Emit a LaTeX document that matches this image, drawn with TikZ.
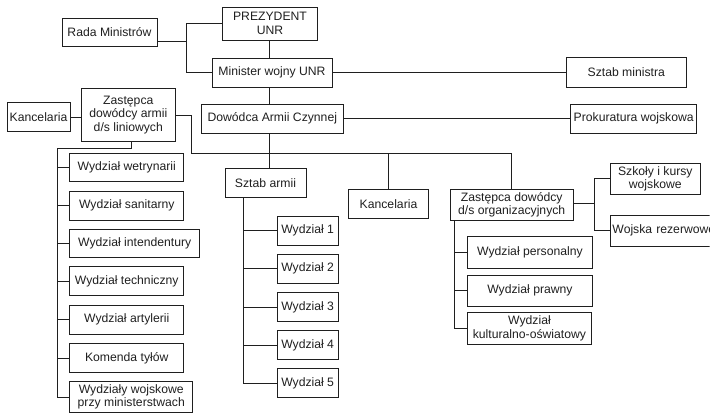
\documentclass[tikz,border=0pt]{standalone}
\usepackage{fontspec}
\setmainfont{Liberation Sans}
\usetikzlibrary{calc}
\definecolor{ink}{gray}{0.12}
\tikzset{
  box/.style={draw=ink, text=ink, line width=0.9pt, align=center, inner sep=1pt,
    font=\fontsize{12.2}{13.5}\selectfont},
  conn/.style={draw=ink, line width=0.8pt},
}
\begin{document}
\begin{tikzpicture}[x=1pt,y=-1pt]
\useasboundingbox (0,0) rectangle (720,420);
\clip (0,0) rectangle (720,420);
% top level
\node[box, minimum width=95pt, minimum height=33pt] (pres) at (270,23.5) {PREZYDENT\\UNR};
\node[box, minimum width=95pt, minimum height=28pt] (rada) at (109.5,32) {Rada Ministrów};
\node[box, minimum width=120pt, minimum height=29pt] (min) at (272,72.5) {Minister wojny UNR};
\node[box, minimum width=141.5pt, minimum height=29.3pt] (dow) at (272.3,118.7) {Dowódca Armii Czynnej};
\node[box, minimum width=119.3pt, minimum height=30pt] (smin) at (626.3,72) {Sztab ministra};
\node[box, minimum width=126pt, minimum height=29.3pt] (prok) at (633.7,118.7) {Prokuratura wojskowa};
% left branch
\node[box, minimum width=63pt, minimum height=29pt] (kanc1) at (38.5,117) {Kancelaria};
\node[box, minimum width=93.3pt, minimum height=53.3pt] (zlin) at (128.3,115) {Zastępca\\dowódcy armii\\d/s liniowych};
\node[box, anchor=west, minimum width=114pt, minimum height=28.5pt] (l1) at (69.3,167.5) {Wydział wetrynarii};
\node[box, anchor=west, minimum width=114pt, minimum height=29pt] (l2) at (69.3,205.5) {Wydział sanitarny};
\node[box, anchor=west, minimum width=130pt, minimum height=28.5pt] (l3) at (69.3,243.5) {Wydział intendentury};
\node[box, anchor=west, minimum width=114pt, minimum height=29pt] (l4) at (69.3,281) {Wydział techniczny};
\node[box, anchor=west, minimum width=114pt, minimum height=29pt] (l5) at (69.3,319.5) {Wydział artylerii};
\node[box, anchor=west, minimum width=114pt, minimum height=29pt] (l6) at (69.3,358) {Komenda tyłów};
\node[box, anchor=west, minimum width=123pt, minimum height=31.7pt] (l7) at (69.3,397) {Wydziały wojskowe\\przy ministerstwach};
% middle branch
\node[box, minimum width=81pt, minimum height=29pt] (sza) at (265.5,182.7) {Sztab armii};
\node[box, anchor=west, minimum width=61pt, minimum height=29pt] (w1) at (276.7,230.5) {Wydział 1};
\node[box, anchor=west, minimum width=61pt, minimum height=29pt] (w2) at (276.7,268.8) {Wydział 2};
\node[box, anchor=west, minimum width=61pt, minimum height=29pt] (w3) at (276.7,307.2) {Wydział 3};
\node[box, anchor=west, minimum width=61pt, minimum height=29pt] (w4) at (276.7,345.3) {Wydział 4};
\node[box, anchor=west, minimum width=61pt, minimum height=29pt] (w5) at (276.7,383) {Wydział 5};
\node[box, minimum width=79.5pt, minimum height=29pt] (kanc2) at (388.5,203.8) {Kancelaria};
% right branch
\node[box, minimum width=123.3pt, minimum height=30.7pt] (zorg) at (511.7,204.7) {Zastępca dowódcy\\d/s organizacyjnych};
\node[box, minimum width=90.7pt, minimum height=31pt] (szk) at (655.3,178.8) {Szkoły i kursy\\wojskowe};
\begin{scope}
\clip (600,200) rectangle (709.5,260);
\node[box, anchor=west, minimum width=125pt, minimum height=31pt, align=left, inner sep=2pt, text width=121pt] (woj) at (610,230.5) {Wojska rezerwowe};
\end{scope}
\node[box, anchor=west, minimum width=124.4pt, minimum height=31.6pt] (r1) at (467.3,252.5) {Wydział personalny};
\node[box, anchor=west, minimum width=124.4pt, minimum height=31pt] (r2) at (467.3,290.5) {Wydział prawny};
\node[box, anchor=west, minimum width=123.4pt, minimum height=31.3pt] (r3) at (467.3,328.3) {Wydział\\kulturalno-oświatowy};
% junction coordinates
\coordinate (jA) at (186.7,0);
\coordinate (spine) at (269,0);
\coordinate (busA) at (191.7,153.3);
\coordinate (lb) at (57.3,148.3);
\coordinate (sb) at (243.3,0);
\coordinate (ob) at (454,0);
\coordinate (rb) at (594,0);
% connectors top
\draw[conn] (pres.west) -- (pres.west -| jA) -- (min.west -| jA) -- (min.west);
\draw[conn] ([yshift=-9pt]rada.east) -- ([yshift=-9pt]rada.east -| jA);
\draw[conn] (pres.south -| spine) -- (min.north -| spine);
\draw[conn] (min.south -| spine) -- (dow.north -| spine);
\draw[conn] (dow.south -| spine) -- (sza.north -| spine);
\draw[conn] (min.east) -- (min.east -| smin.west);
\draw[conn] (dow.east) -- (dow.east -| prok.west);
% left
\draw[conn] (kanc1.east) -- (kanc1.east -| zlin.west);
\draw[conn] (zlin.east) -| (busA) -| (zorg.north);
\draw[conn] (kanc2.north |- busA) -- (kanc2.north);
\draw[conn] ([xshift=3.4pt]zlin.south) |- (lb) |- (l7.west);
\foreach \n in {l1,l2,l3,l4,l5,l6} \draw[conn] (\n.west -| lb) -- (\n.west);
% sztab armii
\draw[conn] (sza.south -| sb) |- (w5.west);
\foreach \n in {w1,w2,w3,w4} \draw[conn] (\n.west -| sb) -- (\n.west);
% zorg
\draw[conn] (zorg.south -| ob) |- (r3.west);
\foreach \n in {r1,r2} \draw[conn] (\n.west -| ob) -- (\n.west);
\draw[conn] ([yshift=1.4pt]zorg.east) -- ([yshift=1.4pt]zorg.east -| rb);
\draw[conn] (szk.west) -- (szk.west -| rb) -- (woj.west -| rb) -- (woj.west);
\end{tikzpicture}
\end{document}
